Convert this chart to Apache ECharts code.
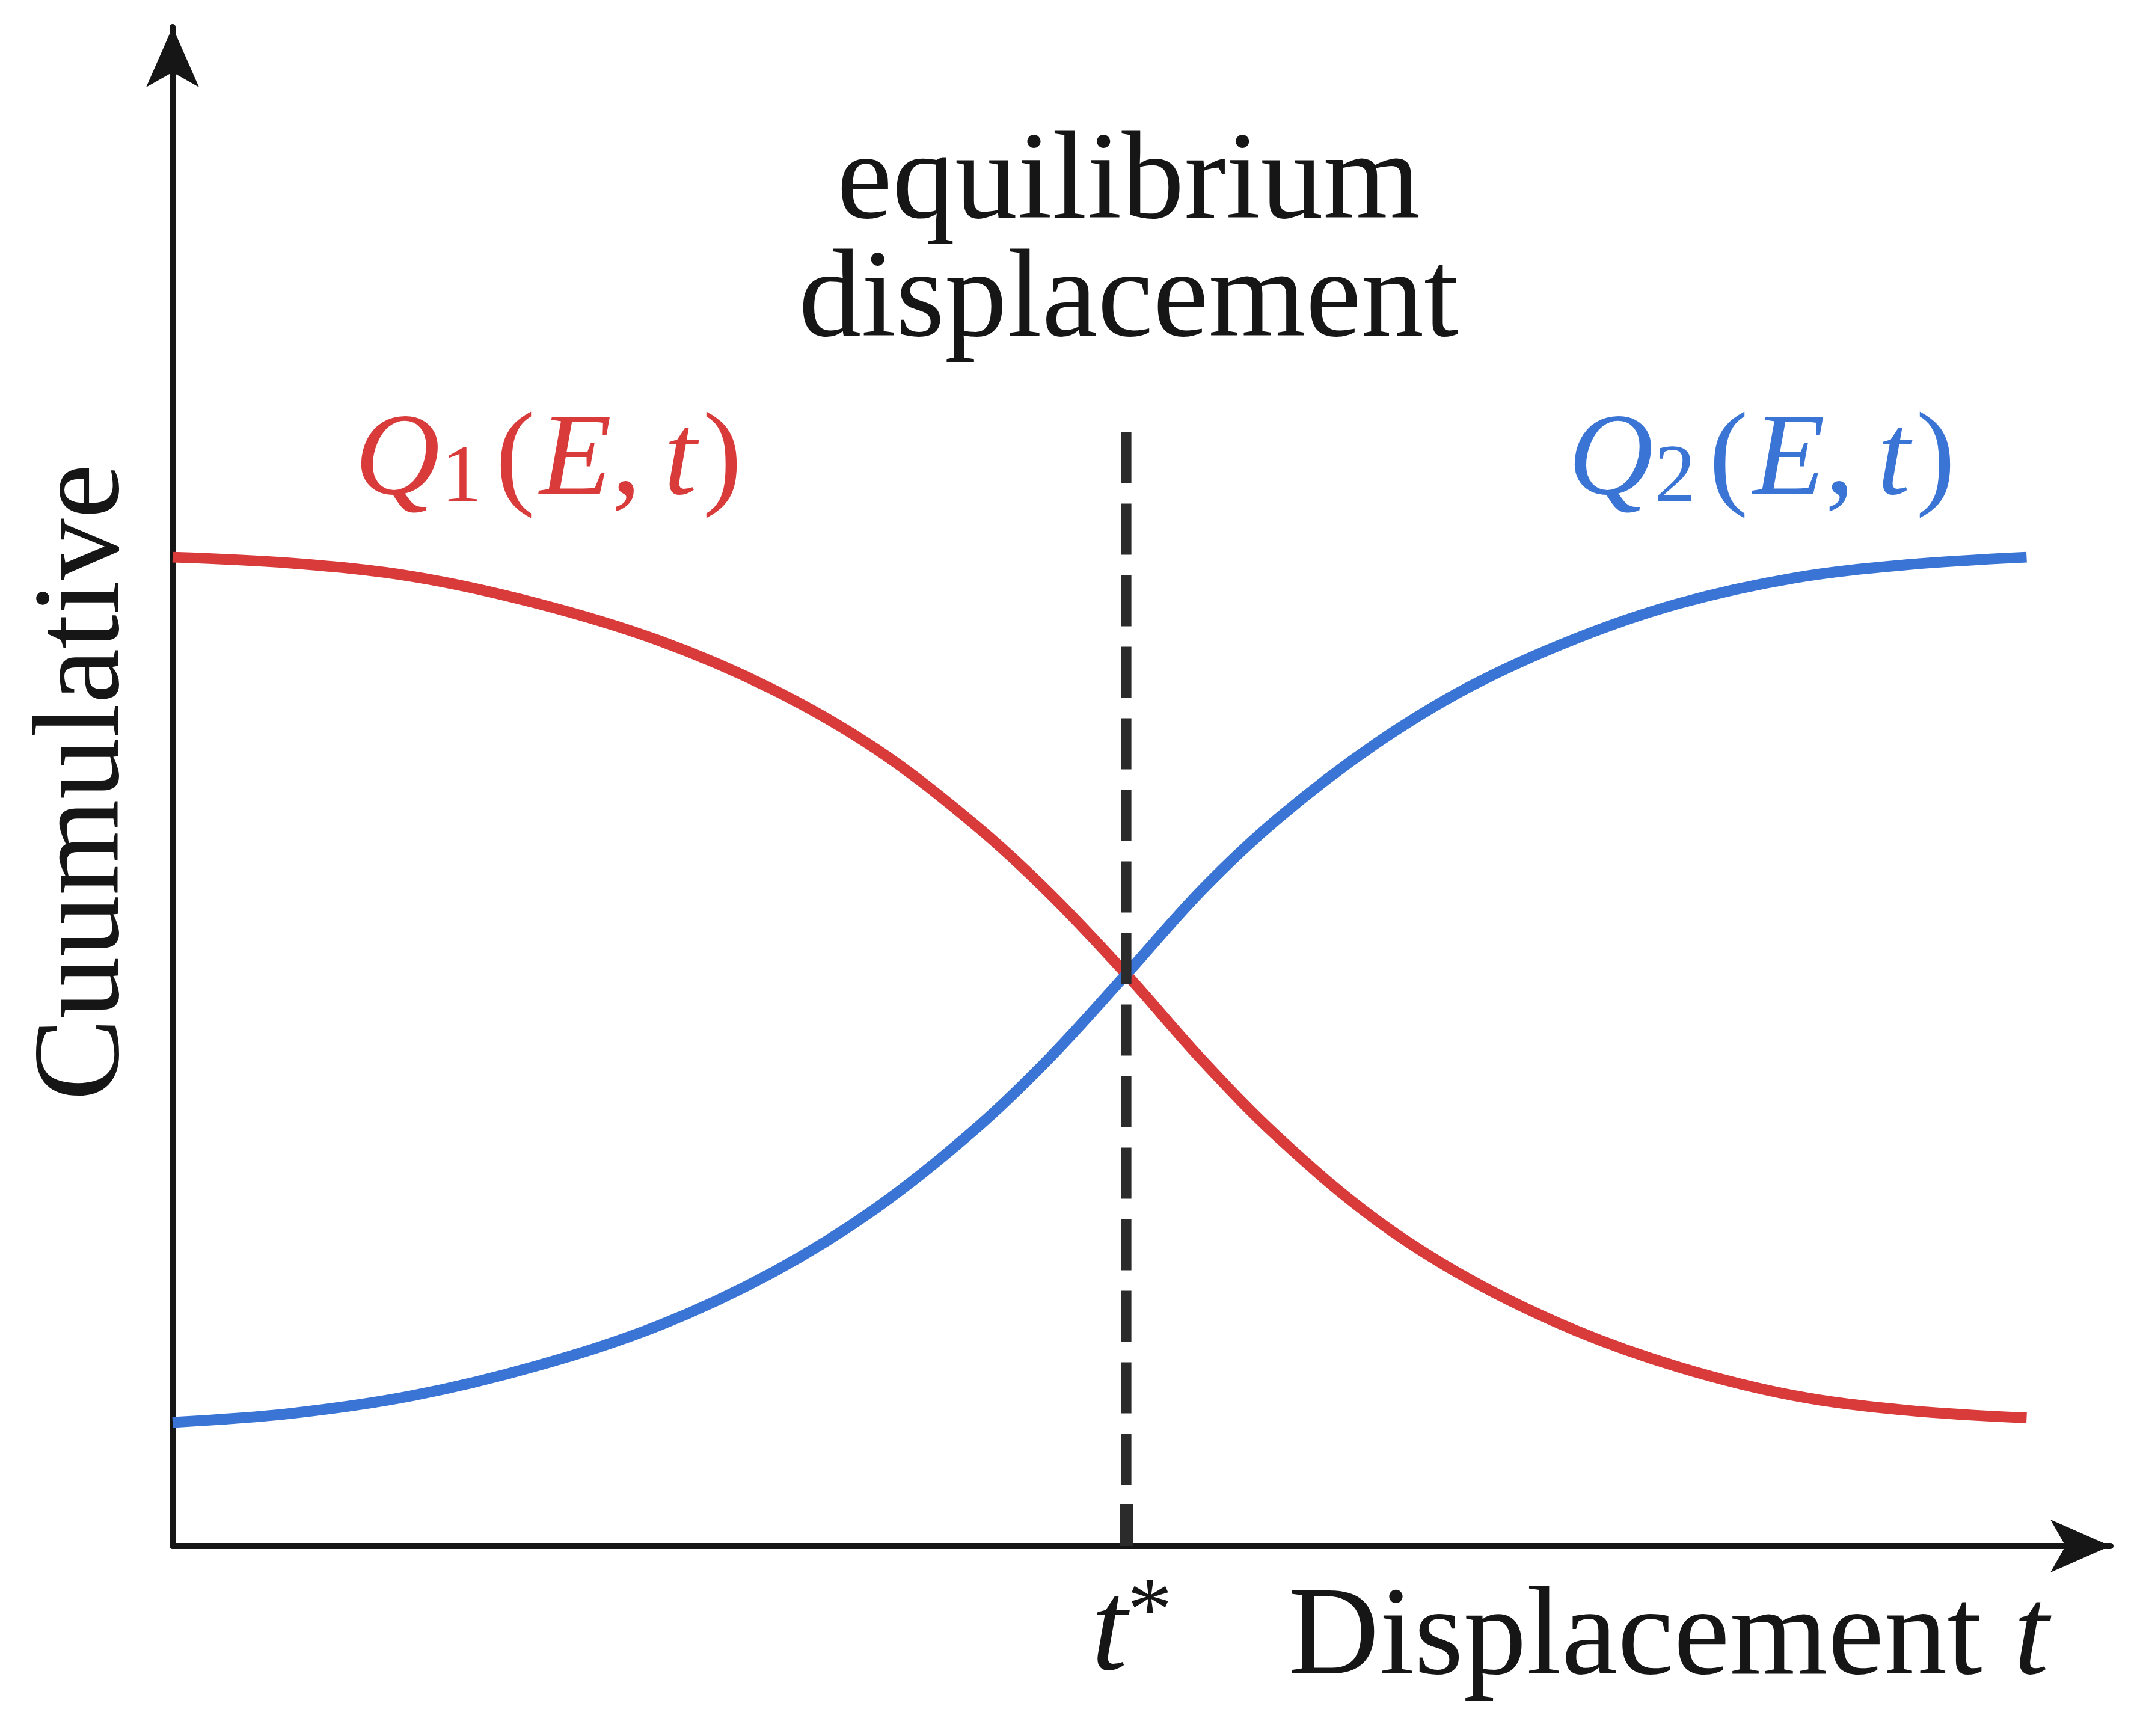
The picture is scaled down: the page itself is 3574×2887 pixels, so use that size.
<!DOCTYPE html>
<html>
<head>
<meta charset="utf-8">
<title>equilibrium displacement</title>
<script src="https://cdn.jsdelivr.net/npm/echarts@6/dist/echarts.min.js"></script>
<style>
  html, body { margin: 0; padding: 0; background: #fff; }
  #chart { width: 3574px; height: 2887px; }
</style>
</head>
<body>
<div id="chart"></div>
<script>
// displacement t (t* sits at 50)
const tValues = [0, 6.2, 12.6, 19.1, 25.5, 31.5, 36.9, 42, 46, 50, 54, 58, 63, 68, 73.5, 79, 85, 91, 97.2]
// Q1(E,t) falls, Q2(E,t) rises
const q1Values = [66.4, 66.0, 65.1, 63.3, 60.8, 57.5, 53.5, 48.5, 43.8, 38.4, 32.6, 27.4, 22.0, 17.9, 14.5, 12.0, 10.1, 9.1, 8.6]
const q2Values = [8.3, 8.9, 10.1, 12.1, 14.8, 18.4, 22.7, 27.9, 32.8, 38.4, 44.1, 48.9, 53.8, 57.7, 60.9, 63.3, 65.0, 65.9, 66.4]
const tStar = 50
const dashTop = 74.8
// axis ends (arrow tips)
const xMax = 101.6
const yMax = 102

const RED = '#d93b3b'
const BLUE = '#3a74d4'
const INK = '#161616'
const SERIF = 'Liberation Serif'

const pairs = (xs, ys) => xs.map((x, i) => [x, ys[i]])

const qRich = (color) => ({
  q: { fontFamily: SERIF, fontStyle: 'italic', fontSize: 196, lineHeight: 196, fill: color },
  s: { fontFamily: SERIF, fontSize: 137, lineHeight: 98, verticalAlign: 'bottom', padding: [0, 22, 0, 2], fill: color },
  p: { fontFamily: SERIF, fontSize: 196, lineHeight: 196, fill: color },
  e: { fontFamily: SERIF, fontStyle: 'italic', fontSize: 196, lineHeight: 196, padding: [0, 0, 0, 8], fill: color },
  c: { fontFamily: SERIF, fontSize: 196, lineHeight: 196, padding: [0, 38, 0, 0], fill: color },
  t: { fontFamily: SERIF, fontStyle: 'italic', fontSize: 196, lineHeight: 196, padding: [0, 10, 0, 0], fill: color }
})

const chart = echarts.init(document.getElementById('chart'))

const option = {
  animation: false,
  backgroundColor: '#ffffff',
  grid: { left: 287, right: 64, top: 45, bottom: 316 },
  xAxis: {
    type: 'value',
    min: 0,
    max: xMax,
    splitLine: { show: false },
    axisLabel: { show: false },
    axisTick: {
      show: true,
      inside: true,
      length: 70,
      customValues: [tStar],
      lineStyle: { color: '#2b2b2b', width: 22 }
    },
    axisLine: {
      show: true,
      onZero: false,
      symbol: ['none', 'arrow'],
      symbolSize: [66, 100],
      lineStyle: { color: INK, width: 10 }
    }
  },
  yAxis: {
    type: 'value',
    min: 0,
    max: yMax,
    splitLine: { show: false },
    axisLabel: { show: false },
    axisTick: { show: false },
    axisLine: {
      show: true,
      onZero: false,
      symbol: ['none', 'arrow'],
      symbolSize: [66, 100],
      lineStyle: { color: INK, width: 10 }
    }
  },
  series: [
    {
      name: 'Q1(E,t)',
      type: 'line',
      data: pairs(tValues, q1Values),
      smooth: 0.35,
      showSymbol: false,
      silent: true,
      lineStyle: { color: RED, width: 18 }
    },
    {
      name: 'Q2(E,t)',
      type: 'line',
      data: pairs(tValues, q2Values),
      smooth: 0.35,
      showSymbol: false,
      silent: true,
      lineStyle: { color: BLUE, width: 18 }
    },
    {
      name: 't*',
      type: 'line',
      data: [[tStar, dashTop], [tStar, 0]],
      showSymbol: false,
      silent: true,
      lineStyle: { color: '#2b2b2b', width: 17, type: [85, 34], cap: 'butt' }
    }
  ],
  graphic: [
    {
      type: 'text',
      x: 1877,
      y: 405,
      style: {
        text: 'equilibrium\ndisplacement',
        fontFamily: SERIF,
        fontSize: 208,
        lineHeight: 196,
        align: 'center',
        verticalAlign: 'middle',
        fill: INK
      }
    },
    {
      type: 'text',
      x: 912,
      y: 769,
      style: {
        text: '{q|Q}{s|1}{p|(}{e|E}{c|,}{t|t}{p|)}',
        rich: qRich(RED),
        align: 'center',
        verticalAlign: 'middle'
      }
    },
    {
      type: 'text',
      x: 2930,
      y: 769,
      style: {
        text: '{q|Q}{s|2}{p|(}{e|E}{c|,}{t|t}{p|)}',
        rich: qRich(BLUE),
        align: 'center',
        verticalAlign: 'middle'
      }
    },
    {
      type: 'text',
      x: 142,
      y: 1301,
      rotation: Math.PI / 2,
      style: {
        text: 'Cuumulative',
        fontFamily: SERIF,
        fontSize: 205,
        align: 'center',
        verticalAlign: 'middle',
        fill: INK
      }
    },
    {
      type: 'text',
      x: 1815,
      y: 2719,
      style: {
        text: '{i|t}{s|*}',
        rich: {
          i: { fontFamily: SERIF, fontStyle: 'italic', fontSize: 215, lineHeight: 215, fill: INK },
          s: { fontFamily: SERIF, fontSize: 150, lineHeight: 150, verticalAlign: 'top', fill: INK }
        },
        align: 'left',
        verticalAlign: 'middle'
      }
    },
    {
      type: 'text',
      x: 2142,
      y: 2728,
      style: {
        text: '{n|Displacement }{i|t}',
        rich: {
          n: { fontFamily: SERIF, fontSize: 210, lineHeight: 210, fill: INK },
          i: { fontFamily: SERIF, fontStyle: 'italic', fontSize: 210, lineHeight: 210, fill: INK }
        },
        align: 'left',
        verticalAlign: 'middle'
      }
    }
  ]
}

chart.setOption(option)
</script>
</body>
</html>
